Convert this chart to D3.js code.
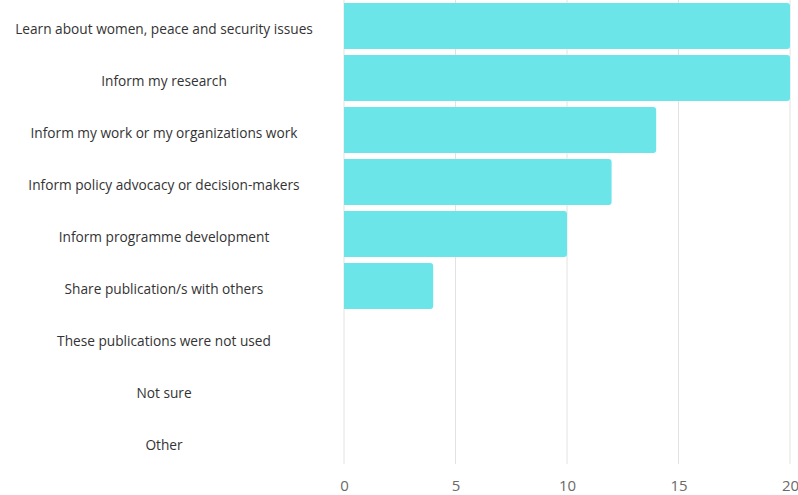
<!DOCTYPE html>
<html>
<head>
<meta charset="utf-8">
<script src="https://cdn.jsdelivr.net/npm/d3@7"></script>
<style>
  body { margin: 0; background: #fff; }
  svg { display: block; font-family: "Open Sans", sans-serif; }
</style>
</head>
<body>
<div id="chart"></div>
<script>
const categories = [
  "Learn about women, peace and security issues",
  "Inform my research",
  "Inform my work or my organizations work",
  "Inform policy advocacy or decision-makers",
  "Inform programme development",
  "Share publication/s with others",
  "These publications were not used",
  "Not sure",
  "Other"
];
const counts = [20, 20, 14, 12, 10, 4, 0, 0, 0];
const xTicks = [0, 5, 10, 15, 20];

const width = 798;
const height = 495;
const margin = { top: 0, right: 8, bottom: 31, left: 344 };

const svg = d3.select("#chart")
  .append("svg")
  .attr("width", width)
  .attr("height", height);

const data = categories.map((c, i) => ({ cat: c, value: counts[i] }));

const xScale = d3.scaleLinear()
  .domain([0, 20])
  .range([margin.left, width - margin.right]);

const yScale = d3.scaleBand()
  .domain(categories)
  .range([0, 468])
  .paddingInner(6 / 52)
  .paddingOuter(3 / 52);

// grid lines
svg.append("g")
  .selectAll("line")
  .data(xTicks)
  .enter()
  .append("line")
  .attr("x1", d => xScale(d))
  .attr("x2", d => xScale(d))
  .attr("y1", 0)
  .attr("y2", height - margin.bottom)
  .attr("stroke", "#e2e2e2")
  .attr("stroke-width", 1);

// bars, rounded at the right end only
const r = 3;
svg.append("g")
  .selectAll("path")
  .data(data.filter(d => d.value > 0))
  .enter()
  .append("path")
  .attr("fill", "#6ce5e8")
  .attr("d", d => {
    const x0 = xScale(0), x1 = xScale(d.value);
    const y0 = yScale(d.cat), h = yScale.bandwidth();
    return `M${x0},${y0}H${x1 - r}Q${x1},${y0} ${x1},${y0 + r}` +
      `V${y0 + h - r}Q${x1},${y0 + h} ${x1 - r},${y0 + h}H${x0}Z`;
  });

// category labels
svg.append("g")
  .selectAll("text")
  .data(categories)
  .enter()
  .append("text")
  .attr("x", 164)
  .attr("y", d => yScale(d) + yScale.bandwidth() / 2 + 3)
  .attr("dy", "0.35em")
  .attr("text-anchor", "middle")
  .attr("font-size", 13.7)
  .attr("fill", "#333")
  .text(d => d);

// x axis
const xAxis = svg.append("g")
  .attr("transform", `translate(0, ${height - margin.bottom})`)
  .call(d3.axisBottom(xScale).tickValues(xTicks).tickSize(0).tickPadding(16));
xAxis.select(".domain").remove();
xAxis.selectAll("text")
  .attr("font-family", "Open Sans, sans-serif")
  .attr("font-size", 15)
  .attr("fill", "#6a6a6a");
</script>
</body>
</html>
